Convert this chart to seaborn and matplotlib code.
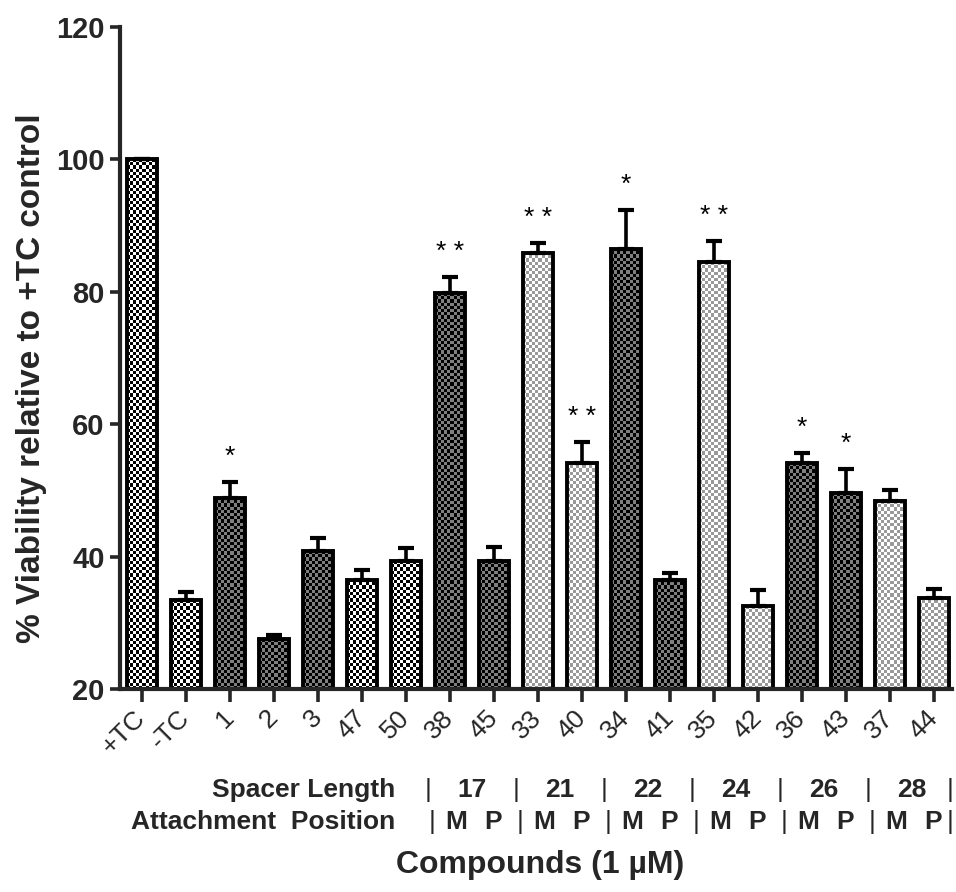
import numpy as np
import pandas as pd
import matplotlib
matplotlib.use("Agg")
import matplotlib.pyplot as plt
import seaborn as sns

# values
compounds = ['+TC', '-TC', '1', '2', '3', '47', '50', '38', '45', '33', '40',
             '34', '41', '35', '42', '36', '43', '37', '44']
viability = [100, 33.4, 48.9, 27.5, 40.8, 36.5, 39.3, 79.8, 39.3, 85.9, 54.2,
             86.5, 36.5, 84.5, 32.5, 54.1, 49.6, 48.4, 33.8]
sem = [0, 1.3, 2.3, 0.6, 2.0, 1.5, 2.0, 2.4, 2.2, 1.5, 3.1,
       5.9, 1.0, 3.2, 2.5, 1.5, 3.6, 1.6, 1.3]
fill = ['white', 'white', 'dark', 'dark', 'dark', 'white', 'white', 'dark', 'dark',
        'light', 'light', 'dark', 'dark', 'light', 'light', 'dark', 'dark', 'light', 'light']
stars = ['', '', '*', '', '', '', '', '**', '', '**', '**', '*', '', '**', '', '*', '*', '', '']
spacer_lengths = ['17', '21', '22', '24', '26', '28']
positions = ['M', 'P']

# two colours of each checkerboard fill
checker_colors = {
    'white': ((0.0, 0.0, 0.0), (1.0, 1.0, 1.0)),
    'dark': ((0.0, 0.0, 0.0), (0.5, 0.5, 0.5)),
    'light': ((0.6, 0.6, 0.6), (1.0, 1.0, 1.0)),
}

df = pd.DataFrame({'compound': compounds, 'viability': viability})

sns.set_style("ticks")
plt.rcParams['font.family'] = ['Liberation Sans', 'DejaVu Sans']

fig = plt.figure(figsize=(9.56, 8.92), dpi=100)
ax = fig.add_axes([0.1255, 0.2276, 0.8703, 0.7421])

sns.barplot(data=df, x='compound', y='viability', order=compounds, color='white',
            edgecolor='black', linewidth=2.8, width=0.7, errorbar=None, ax=ax)

ax.set_ylim(20, 120)
ax.set_xlim(-0.5, 18.41)

# checkerboard fill, clipped to each bar
cell_px = 3.2
for patch, kind in zip(ax.patches, fill):
    x0, w = patch.get_x(), patch.get_width()
    y1 = patch.get_y() + patch.get_height()
    y0 = 20
    p0 = ax.transData.transform((x0, y0))
    p1 = ax.transData.transform((x0 + w, y1))
    nc = max(1, int(round((p1[0] - p0[0]) / cell_px)))
    nr = max(1, int(round((p1[1] - p0[1]) / cell_px)))
    ii, jj = np.indices((nr, nc))
    mask = (ii + jj) % 2
    c_a, c_b = checker_colors[kind]
    rgb = np.where(mask[..., None] == 0, np.array(c_a, dtype=float),
                   np.array(c_b, dtype=float))
    im = ax.imshow(rgb, extent=(x0, x0 + w, y0, y1), origin='lower', aspect='auto',
                   interpolation='nearest', zorder=1)
    im.set_clip_path(patch)
    patch.set_facecolor('none')
    patch.set_zorder(2)

ax.set_ylim(20, 120)
ax.set_xlim(-0.5, 18.41)

# upper error bars only
xs = np.arange(len(compounds))
ax.errorbar(xs, viability, yerr=[np.zeros(len(sem)), sem], fmt='none', ecolor='black',
            elinewidth=2.6, capsize=5.5, capthick=3, zorder=3)

# significance marks
for x, v, e, s in zip(xs, viability, sem, stars):
    if s:
        ax.text(x, v + e + 2.0, ' '.join(s), ha='center', va='bottom', fontsize=19,
                color='black')

ax.set_yticks([20, 40, 60, 80, 100, 120])
ax.set_yticklabels(['20', '40', '60', '80', '100', '120'], fontsize=21, fontweight='bold')
ax.set_xticks(xs)
ax.set_xticklabels(compounds, rotation=45, ha='right', va='center',
                   rotation_mode='anchor', fontsize=19)
ax.tick_params(axis='x', length=9, width=2.6, pad=9)
ax.tick_params(axis='y', length=7, width=2.6, pad=4)
ax.set_xlabel('')
ax.set_ylabel('% Viability relative to +TC control', fontsize=24, fontweight='bold')
ax.yaxis.set_label_coords(-0.088, 0.47)

sns.despine(ax=ax)
for side in ['left', 'bottom']:
    ax.spines[side].set_linewidth(3)

# group annotation rows under the axis
tr = ax.get_xaxis_transform()
row1, row2 = -0.1526, -0.2009
fs = 19
ax.text(5.75, row1, 'Spacer Length', transform=tr, ha='right', va='center',
        fontsize=fs, fontweight='bold')
ax.text(5.75, row2, 'Attachment  Position', transform=tr, ha='right', va='center',
        fontsize=fs, fontweight='bold')
for k, length in enumerate(spacer_lengths):
    left = 6.5 + 2 * k
    ax.text(left, row1, '|', transform=tr, ha='center', va='center', fontsize=fs)
    ax.text(left + 1, row1, length, transform=tr, ha='center', va='center',
            fontsize=fs, fontweight='bold')
    ax.text(left + 0.1, row2, '|', transform=tr, ha='center', va='center', fontsize=fs)
    ax.text(left + 0.64, row2, positions[0], transform=tr, ha='center', va='center',
            fontsize=fs, fontweight='bold')
    ax.text(left + 1.48, row2, positions[1], transform=tr, ha='center', va='center',
            fontsize=fs, fontweight='bold')
ax.text(18.36, row1, '|', transform=tr, ha='center', va='center', fontsize=fs)
ax.text(18.36, row2, '|', transform=tr, ha='center', va='center', fontsize=fs)

fig.text(0.565, 0.0303, 'Compounds (1 µM)', ha='center', va='center',
         fontsize=23, fontweight='bold')

fig.savefig('out.png', dpi=100)
plt.close(fig)
